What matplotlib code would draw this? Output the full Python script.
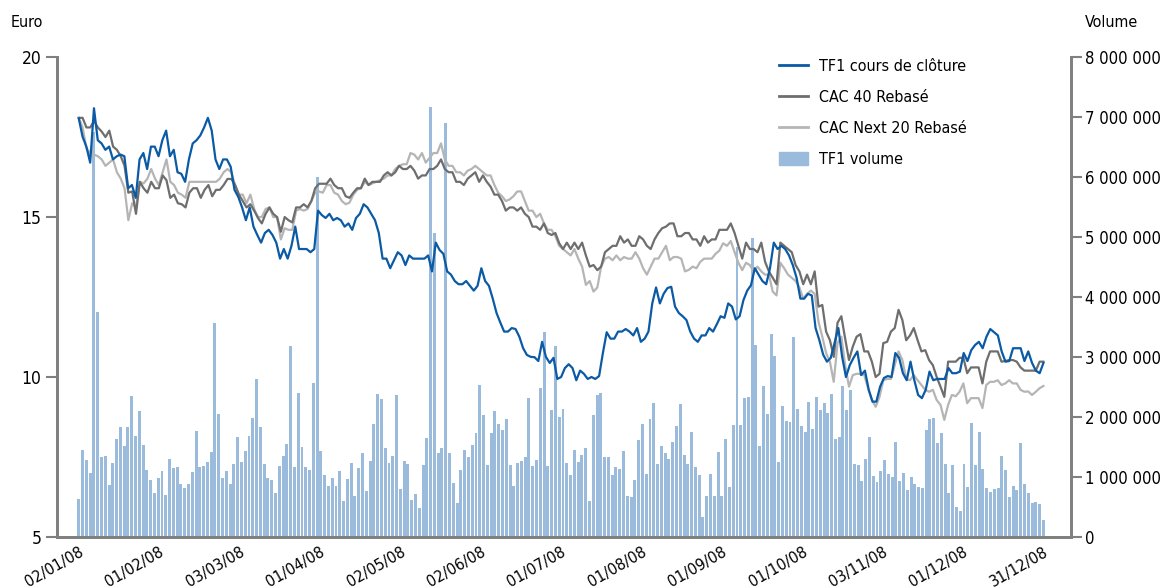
import numpy as np
import matplotlib.pyplot as plt
from matplotlib.ticker import FuncFormatter
from matplotlib.patches import Patch
from matplotlib.lines import Line2D
from matplotlib.transforms import ScaledTranslation

plt.rcParams['font.family'] = ['Liberation Sans Narrow', 'DejaVu Sans']
plt.rcParams['font.stretch'] = 'condensed'

# dates shown on the x axis
date_labels = ['02/01/08', '01/02/08', '03/03/08', '01/04/08', '02/05/08', '02/06/08',
               '01/07/08', '01/08/08', '01/09/08', '01/10/08', '03/11/08', '01/12/08',
               '31/12/08']

# daily TF1 volume (millions of shares), one per trading day
volume_m = [
    0.63, 1.45, 1.28, 1.07, 6.75, 3.75, 1.33, 1.35, 0.87, 1.23, 1.63, 1.83, 1.52, 1.83,
    2.35, 1.68, 2.10, 1.53, 1.12, 0.95, 0.73, 0.98, 1.10, 0.70, 1.30, 1.15, 1.17, 0.88,
    0.82, 0.88, 1.08, 1.77, 1.17, 1.18, 1.25, 1.42, 3.57, 2.05, 0.98, 1.10, 0.88, 1.22,
    1.67, 1.25, 1.43, 1.68, 1.98, 2.63, 1.83, 1.22, 0.98, 0.95, 0.73, 1.18, 1.35, 1.55,
    3.18, 1.17, 2.40, 1.50, 1.17, 1.12, 2.57, 6.00, 1.43, 1.03, 0.85, 0.98, 0.85, 1.10,
    0.60, 0.97, 1.23, 0.68, 1.15, 1.40, 0.77, 1.27, 1.88, 2.38, 2.30, 1.48, 1.23, 1.35,
    2.37, 0.80, 1.27, 1.22, 0.62, 0.72, 0.48, 1.20, 1.65, 7.17, 5.07, 1.40, 1.48, 6.90,
    1.40, 0.90, 0.57, 1.12, 1.45, 1.33, 1.53, 1.73, 2.53, 2.03, 1.20, 1.73, 2.10, 1.88,
    1.78, 1.97, 1.20, 0.85, 1.23, 1.27, 1.33, 2.32, 1.18, 1.28, 2.48, 3.42, 1.18, 2.12,
    3.18, 2.00, 2.13, 1.23, 1.03, 1.45, 1.25, 1.37, 1.48, 0.60, 2.03, 2.37, 2.40, 1.33,
    1.33, 1.03, 1.17, 1.13, 1.43, 0.68, 0.67, 0.95, 1.62, 1.88, 1.05, 1.97, 2.23, 1.22,
    1.52, 1.40, 1.30, 1.58, 1.85, 2.22, 1.37, 1.22, 1.75, 1.17, 1.03, 0.33, 0.68, 1.05,
    0.68, 1.42, 0.68, 1.63, 0.83, 1.87, 4.84, 1.87, 2.32, 2.33, 4.98, 3.20, 1.52, 2.52,
    2.05, 3.38, 3.02, 1.25, 2.18, 1.93, 1.92, 3.33, 2.13, 1.85, 1.75, 2.25, 1.80, 2.33,
    2.12, 2.23, 2.07, 2.38, 1.63, 1.67, 2.52, 2.12, 2.45, 1.22, 1.20, 0.93, 1.30, 1.67,
    1.02, 0.92, 1.10, 1.28, 1.05, 1.00, 1.58, 0.93, 1.07, 0.78, 1.00, 0.88, 0.83, 0.82,
    1.78, 1.97, 1.98, 1.57, 1.73, 1.22, 0.73, 1.20, 0.50, 0.43, 1.22, 0.83, 1.90, 1.20,
    1.75, 1.13, 0.82, 0.75, 0.80, 0.82, 1.35, 1.12, 0.67, 0.85, 0.78, 1.57, 0.88, 0.73,
    0.57, 0.58, 0.55, 0.28,
]

tf1_close = [
    18.08, 17.51, 17.2, 16.7, 18.4, 17.4, 17.3, 17.1, 17.2, 16.8, 16.9, 16.95, 16.9, 15.9,
    16.0, 15.6, 16.8, 17.0, 16.5, 17.2, 17.2, 16.9, 17.4, 17.7, 16.9, 17.1, 16.4, 16.35,
    16.1, 16.8, 17.3, 17.4, 17.55, 17.8, 18.1, 17.7, 16.8, 16.5, 16.8, 16.8, 16.57, 15.85,
    15.63, 15.3, 14.9, 15.3, 14.7, 14.44, 14.2, 14.5, 14.6, 14.44, 14.2, 13.7, 14.0, 13.7,
    14.1, 14.7, 14.0, 14.0, 14.0, 13.9, 14.0, 15.2, 15.06, 14.97, 15.1, 14.9, 14.97, 14.9,
    14.7, 14.8, 14.6, 14.97, 15.1, 15.4, 15.3, 15.1, 14.9, 14.5, 13.7, 13.7, 13.4, 13.65,
    13.9, 13.8, 13.5, 13.8, 13.7, 13.7, 13.7, 13.7, 13.8, 13.3, 14.2, 13.97, 13.85, 13.3,
    13.2, 13.0, 12.9, 12.9, 13.0, 12.85, 12.7, 12.85, 13.4, 13.0, 12.85, 12.45, 12.0, 11.7,
    11.42, 11.42, 11.53, 11.5, 11.26, 10.9, 10.69, 10.63, 10.62, 10.5, 11.1, 10.63, 10.44,
    10.6, 9.94, 10.0, 10.28, 10.4, 10.28, 9.9, 10.2, 10.1, 9.94, 10.0, 9.94, 10.03, 10.75,
    11.4, 11.2, 11.2, 11.42, 11.42, 11.5, 11.42, 11.3, 11.53, 11.1, 11.2, 11.42, 12.3, 12.8,
    12.3, 12.6, 12.78, 12.82, 12.2, 12.0, 11.9, 11.78, 11.42, 11.2, 11.1, 11.3, 11.3, 11.53,
    11.42, 11.65, 11.9, 11.85, 12.3, 12.2, 11.8, 11.9, 12.4, 12.7, 12.87, 13.4, 13.2, 13.0,
    12.9, 13.4, 14.2, 14.0, 14.1, 14.0, 13.8, 13.5, 13.1, 12.45, 12.45, 12.6, 12.55, 11.53,
    11.15, 10.7, 10.48, 10.6, 11.06, 11.53, 10.63, 10.0, 10.37, 10.6, 10.8, 10.06, 10.2,
    9.6, 9.23, 9.23, 9.7, 9.97, 10.03, 10.0, 10.75, 10.6, 10.12, 9.9, 10.48, 9.9, 9.44,
    9.34, 9.6, 10.17, 9.9, 9.94, 9.94, 9.94, 10.28, 10.12, 10.12, 10.17, 10.75, 10.5, 10.84,
    11.0, 11.1, 10.9, 11.26, 11.5, 11.4, 11.3, 10.8, 10.48, 10.5, 10.9, 10.9, 10.9, 10.5,
    10.8, 10.44, 10.2, 10.12, 10.44,
]

cac40_rebased = [
    18.1, 18.1, 17.8, 17.8, 18.0, 17.8, 17.67, 17.5, 17.7, 17.2, 17.1, 16.9, 16.6, 15.76,
    15.8, 15.1, 16.1, 15.9, 15.76, 16.1, 15.9, 15.9, 16.3, 16.15, 15.6, 15.7, 15.43, 15.4,
    15.3, 15.76, 15.9, 15.9, 15.6, 15.85, 16.0, 15.65, 15.85, 15.85, 16.0, 16.19, 16.19,
    16.0, 15.7, 15.5, 15.3, 15.4, 15.2, 14.97, 14.8, 15.1, 15.3, 15.1, 15.0, 14.54, 15.0,
    14.9, 14.83, 15.3, 15.3, 15.4, 15.3, 15.5, 15.9, 16.04, 16.04, 16.04, 16.2, 16.0, 15.9,
    15.9, 15.65, 15.6, 15.76, 15.9, 15.9, 16.2, 16.0, 16.1, 16.1, 16.1, 16.3, 16.4, 16.3,
    16.4, 16.6, 16.5, 16.5, 16.6, 16.45, 16.2, 16.3, 16.3, 16.5, 16.5, 16.6, 16.8, 16.5,
    16.4, 16.4, 16.1, 16.1, 16.0, 16.2, 16.3, 16.4, 16.1, 16.3, 16.1, 15.95, 15.7, 15.7,
    15.5, 15.2, 15.3, 15.3, 15.2, 15.3, 15.1, 15.0, 14.7, 14.7, 14.6, 14.8, 14.5, 14.44,
    14.5, 14.18, 14.0, 14.2, 14.0, 14.2, 14.0, 14.2, 13.8, 13.45, 13.5, 13.34, 13.45, 13.9,
    14.0, 14.1, 14.1, 14.4, 14.2, 14.3, 14.1, 14.1, 14.4, 14.3, 14.1, 14.0, 14.3, 14.5,
    14.65, 14.7, 14.8, 14.8, 14.4, 14.4, 14.5, 14.5, 14.3, 14.3, 14.1, 14.4, 14.2, 14.3,
    14.3, 14.6, 14.6, 14.6, 14.8, 14.5, 14.1, 13.7, 14.2, 14.0, 14.0, 13.9, 14.2, 13.6,
    13.3, 13.1, 12.9, 14.2, 14.1, 14.0, 13.9, 13.5, 13.3, 12.9, 13.2, 12.9, 13.3, 12.2,
    12.25, 11.42, 11.15, 10.63, 11.7, 11.9, 11.2, 10.53, 10.95, 11.26, 11.34, 10.8, 10.8,
    10.48, 10.0, 10.1, 11.06, 11.1, 11.42, 11.53, 12.1, 11.78, 11.15, 11.3, 11.53, 11.15,
    10.8, 10.84, 10.53, 10.37, 10.0, 9.7, 9.38, 10.48, 10.48, 10.48, 10.6, 10.6, 10.12,
    10.3, 10.3, 10.3, 9.8, 10.48, 10.8, 10.8, 10.8, 10.48, 10.5, 10.53, 10.53, 10.48, 10.3,
    10.2, 10.2, 10.2, 10.2, 10.48, 10.48,
]

next20_rebased = [
    18.1, 17.8, 17.15, 17.0, 16.95, 16.9, 16.8, 16.6, 16.7, 16.8, 16.4, 16.2, 15.9, 14.9,
    15.43, 15.3, 16.1, 16.05, 16.2, 16.5, 16.2, 16.0, 16.4, 16.8, 16.1, 16.0, 15.76, 15.7,
    15.6, 16.1, 16.1, 16.1, 16.1, 16.1, 16.1, 16.1, 16.1, 16.2, 16.4, 16.5, 16.4, 16.0,
    15.7, 15.7, 15.43, 15.7, 15.25, 15.0, 15.0, 15.25, 15.3, 15.0, 15.0, 14.3, 14.65, 14.6,
    14.6, 15.2, 15.25, 15.2, 15.25, 15.5, 15.76, 15.8, 15.76, 16.0, 16.0, 15.76, 15.7, 15.5,
    15.4, 15.45, 15.7, 15.85, 15.9, 16.1, 16.0, 16.05, 16.1, 16.15, 16.2, 16.3, 16.3, 16.5,
    16.6, 16.65, 16.65, 17.0, 16.95, 16.8, 17.0, 16.7, 16.85, 17.0, 17.0, 17.3, 16.8, 16.6,
    16.6, 16.4, 16.4, 16.3, 16.45, 16.5, 16.6, 16.5, 16.4, 16.3, 16.3, 16.0, 15.76, 15.65,
    15.5, 15.55, 15.65, 15.8, 15.8, 15.5, 15.2, 15.2, 15.0, 15.1, 14.8, 14.6, 14.6, 14.4,
    14.1, 14.0, 13.9, 13.8, 14.0, 13.7, 13.45, 12.88, 13.0, 12.67, 12.8, 13.45, 13.7, 13.75,
    13.65, 13.8, 13.65, 13.75, 13.7, 13.7, 13.9, 13.7, 13.4, 13.2, 13.45, 13.7, 13.7, 13.9,
    14.1, 13.65, 13.75, 13.75, 13.7, 13.3, 13.35, 13.45, 13.4, 13.6, 13.7, 13.7, 13.7,
    13.85, 13.95, 14.18, 14.1, 14.25, 13.9, 13.57, 13.34, 13.57, 13.5, 13.3, 13.45, 13.3,
    13.2, 13.2, 12.67, 12.55, 13.57, 13.4, 13.2, 13.1, 13.0, 12.8, 12.45, 12.6, 12.7, 12.6,
    11.73, 11.26, 10.75, 10.48, 9.85, 11.06, 11.26, 10.37, 9.7, 10.06, 10.1, 10.1, 10.06,
    9.65, 9.28, 9.07, 9.38, 9.9, 9.94, 9.94, 10.37, 10.8, 10.53, 9.94, 9.9, 10.06, 9.9,
    9.75, 9.6, 9.54, 9.6, 9.28, 9.13, 8.66, 9.13, 9.44, 9.4, 9.54, 9.8, 9.18, 9.34, 9.34,
    9.34, 9.03, 9.75, 9.85, 9.85, 9.9, 9.75, 9.8, 9.9, 9.8, 9.8, 9.6, 9.54, 9.55, 9.44,
    9.54, 9.65, 9.72,
]

vol_ticks = [0, 1, 2, 3, 4, 5, 6, 7, 8]


def thousands(v, pos):
    return '{:,.0f}'.format(v * 1e6).replace(',', ' ')


def main():
    grey = '#808080'
    fig = plt.figure(figsize=(11.6, 5.88), dpi=100)
    ax = fig.add_axes([0.049, 0.0867, 0.874, 0.8163])
    ax2 = ax.twinx()

    n = len(volume_m)
    days = np.arange(n)
    ax2.bar(days, volume_m, width=0.78, color='#9bbbdc', zorder=1)

    ax.plot(np.linspace(0, n - 1, len(next20_rebased)), next20_rebased,
            color='#b5b5b5', lw=1.6)
    ax.plot(np.linspace(0, n - 1, len(cac40_rebased)), cac40_rebased,
            color='#6e6e6e', lw=1.6)
    ax.plot(np.linspace(0, n - 1, len(tf1_close)), tf1_close,
            color='#0a5aa5', lw=1.6)

    ax.set_zorder(ax2.get_zorder() + 1)
    ax.patch.set_visible(False)

    ax.set_xlim(-5.8, 262.2)
    ax.set_ylim(5, 20)
    ax.set_yticks([5, 10, 15, 20])
    ax2.set_ylim(0, 8)
    ax2.set_yticks(vol_ticks)
    ax2.yaxis.set_major_formatter(FuncFormatter(thousands))

    ax.set_xticks(np.linspace(0, n - 1, len(date_labels)))
    ax.set_xticklabels(date_labels, rotation=30, ha='right', rotation_mode='anchor',
                       fontsize=11.5)
    # labels sit a little to the right of their tick
    shift = ScaledTranslation(8 / 100, 0, fig.dpi_scale_trans)
    for lab in ax.get_xticklabels():
        lab.set_transform(lab.get_transform() + shift)
    ax.tick_params(axis='x', length=0, pad=5)
    ax.tick_params(axis='y', length=8, width=1.5, color=grey, labelsize=12.5, pad=3)
    ax2.tick_params(axis='y', length=8, width=1.5, color=grey, labelsize=12, pad=2)

    for a in (ax, ax2):
        a.spines['top'].set_visible(False)
        for s in ('left', 'right', 'bottom'):
            a.spines[s].set_color(grey)
            a.spines[s].set_linewidth(2)

    fig.text(0.009, 0.962, 'Euro', fontsize=11.5, va='center')
    fig.text(0.935, 0.962, 'Volume', fontsize=11.5, va='center')

    handles = [
        Line2D([], [], color='#0a5aa5', lw=2),
        Line2D([], [], color='#6e6e6e', lw=2),
        Line2D([], [], color='#b5b5b5', lw=2),
        Patch(color='#9bbbdc'),
    ]
    labels = ['TF1 cours de clôture', 'CAC 40 Rebasé', 'CAC Next 20 Rebasé', 'TF1 volume']
    fig.legend(handles, labels, loc='upper left', bbox_to_anchor=(0.659, 0.925),
               frameon=False, fontsize=11.5, handlelength=1.8, handleheight=0.9,
               labelspacing=1.0, handletextpad=0.7)

    fig.savefig('out.png', dpi=100)


if __name__ == '__main__':
    main()
